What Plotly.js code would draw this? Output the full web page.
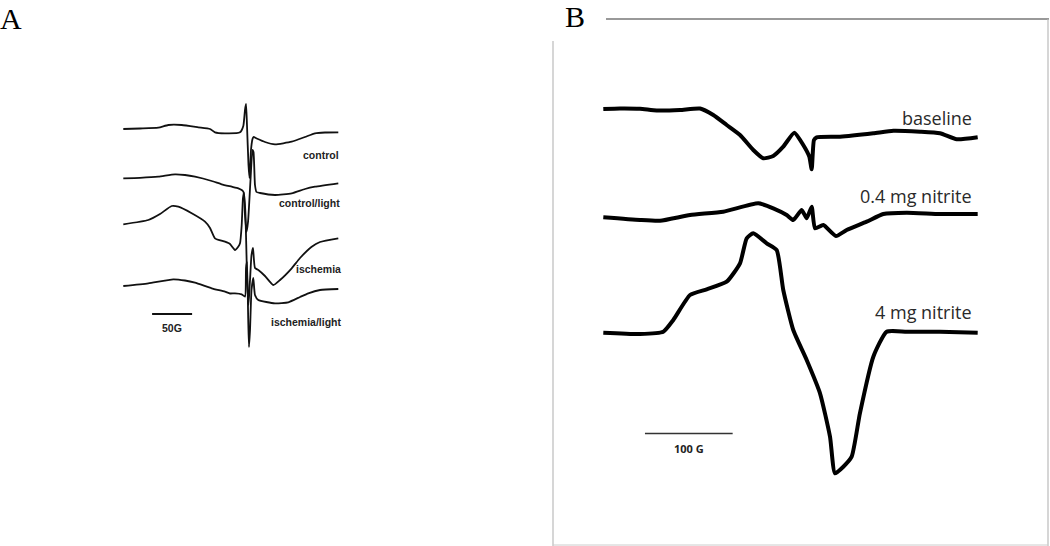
<!DOCTYPE html>
<html>
<head>
<meta charset="utf-8">
<script src="https://cdn.plot.ly/plotly-3.0.1.min.js"></script>
<style>html,body{margin:0;padding:0;background:#fff;}#chart{width:1050px;height:546px;}</style>
</head>
<body>
<div id="chart"></div>
<script>
// ---------- Panel A: magnetic field (G) and derivative signal (a.u.) ----------
const labelsA = ["control", "control/light", "ischemia", "ischemia/light"];

const fieldA_control = [0, 20.9, 43.75, 56.25, 73, 93.75, 108.4, 114.6, 127.1, 145.9, 150, 152.1, 153.4, 154.6, 156.5, 157.75, 159.6, 161.5, 162.75, 166.75, 177.1, 189.6, 210.5, 227.1, 239.6, 252.1, 268.75];
const signalA_control = [0, 0.5, 1.3, 4, 4, 1.7, 0, -3.3, -4.3, -3.3, 3, 19, 25, 4, -36, -49, -21, -10, -8, -9.5, -13, -15.3, -12.7, -8, -4.3, -3.5, -3.3];

const fieldA_controlLight = [0, 20.9, 43.75, 64.6, 77.1, 89.6, 110.5, 123, 135.5, 143.75, 148, 150.25, 152.1, 154, 155.9, 159, 161.5, 162.75, 164.6, 166.5, 170.9, 189.6, 210.5, 227.1, 239.6, 268.75];
const signalA_controlLight = [0, 0.5, 1.6, 4, 3.3, 1.6, -2.7, -6, -8.4, -10, -11.7, -13.7, -36.7, -53.7, -43.7, -1.7, 28.3, 26.3, -6.7, -13.7, -14.7, -16.7, -15, -10.7, -8.4, -5];

const fieldA_ischemia = [0, 31.25, 45.9, 60.5, 68.75, 85.5, 102.1, 108.4, 114.6, 127.1, 133.4, 139.6, 143.4, 145.9, 148, 149.6, 150.9, 152.75, 154.6, 156.5, 158.4, 160.25, 162.1, 164.6, 168.75, 177.1, 187.5, 195.9, 210.5, 220.9, 235.5, 245.9, 268.75];
const signalA_ischemia = [0, 4.3, 10.3, 18.3, 17.6, 11, 2.6, -3.7, -14, -17.4, -19.7, -25.7, -22.7, -19, -0.7, 26.3, 31.3, 9.3, -50.7, -80.7, -55.7, -30.7, -23.7, -43.7, -45.7, -51.7, -60.7, -55.7, -44, -33.7, -22.4, -17.7, -14];

const fieldA_ischemiaLight = [0, 31.25, 62.5, 77.1, 89.6, 110.5, 127.1, 133.4, 139.6, 148, 152.1, 153.4, 154.6, 156.1, 157.1, 158.4, 160.25, 162.5, 164.6, 168.75, 189.6, 206.25, 220.9, 231.25, 245.9, 268.75];
const signalA_ischemiaLight = [0, 2.7, 6.7, 5.5, 3.3, -2.3, -5.7, -7.5, -7.3, -8.3, -10.7, 18, 24, -32, -61, -44, -4, 8, -9, -14, -17.3, -16.3, -11, -7.3, -4, -3];

const scaleA_G = 50;

// ---------- Panel B ----------
const labelsB = ["baseline", "0.4 mg nitrite", "4 mg nitrite"];

const fieldB_baseline = [0, 19, 41.8, 60.9, 87.5, 110.3, 125.4, 140.7, 155.9, 171, 182.4, 193.8, 205.2, 217.8, 228, 234.9, 237.6, 240.2, 243.3, 269.9, 307.9, 330.7, 361.1, 383.9, 403, 426.9];
const signalB_baseline = [0, 0.5, 0.2, -1.5, -1, 0.5, -6, -16, -26, -41, -49.3, -47, -37.7, -23.7, -36, -47.7, -60.3, -31, -28.3, -27.7, -24.3, -21.7, -22.7, -24.3, -30.3, -28.3];

const fieldB_nitrite04 = [0, 41.8, 64.7, 98.9, 136.8, 176.7, 193.8, 209.1, 216.6, 226.2, 231.9, 237.6, 241.4, 250.9, 265.3, 277.5, 300.3, 319.3, 346, 383.9, 426.9];
const signalB_nitrite04 = [0, -2.7, -3.4, 2.3, 5.6, 14, 9, 2.3, -2.7, 7.3, -1, 10.6, -11, -7.7, -18.7, -12.7, -4.4, 3.3, 4.6, 3.3, 3.3];

const fieldB_nitrite4 = [0, 41.8, 68.4, 79.8, 98.9, 117.9, 140.7, 155.9, 163.5, 171, 186.3, 197.7, 205.2, 216.6, 231.9, 247.1, 258.5, 264.2, 273.7, 283.2, 292.6, 307.9, 323.1, 346, 383.9, 426.9];
const signalB_nitrite4 = [0, -1.3, 1, 12.7, 37.7, 43.4, 51, 69.4, 94.4, 99.4, 89.4, 82.7, 42.7, 2.7, -27.3, -60.6, -104, -140.6, -134, -124, -80.6, -24, 1, 1, 1, 0];

const scaleB_G = 100;

// ---------- layout constants (positions / styles) ----------
const W = 1050, H = 546;
const stackA = [417, 367.7, 321.7, 260];
const stackB = [437, 328.7, 213.3];
const pxPerGA = 0.8, originA = 123.3;
const pxPerGB = 0.877, originB = 603.3;

const seriesA = [
  [fieldA_control, signalA_control],
  [fieldA_controlLight, signalA_controlLight],
  [fieldA_ischemia, signalA_ischemia],
  [fieldA_ischemiaLight, signalA_ischemiaLight]
];
const seriesB = [
  [fieldB_baseline, signalB_baseline],
  [fieldB_nitrite04, signalB_nitrite04],
  [fieldB_nitrite4, signalB_nitrite4]
];

const traces = [];
seriesA.forEach((s, i) => {
  traces.push({
    x: s[0], y: s[1].map(v => v + stackA[i]),
    xaxis: 'x', yaxis: 'y', mode: 'lines', name: labelsA[i],
    line: {color: '#111', width: 1.8, shape: 'spline', smoothing: 0.5}, hoverinfo: 'skip'
  });
});
seriesB.forEach((s, i) => {
  traces.push({
    x: s[0], y: s[1].map(v => v + stackB[i]),
    xaxis: 'x2', yaxis: 'y2', mode: 'lines', name: labelsB[i],
    line: {color: '#000', width: 4, shape: 'spline', smoothing: 0.5}, hoverinfo: 'skip'
  });
});

function hiddenAxis(extra) {
  return Object.assign({visible: false, showgrid: false, zeroline: false, fixedrange: true}, extra);
}

const annPosA = [[341, 155], [342, 203], [343, 269], [344, 322]];
const annPosB = [[974, 118], [974, 196], [974, 312]];

const annotations = [];
labelsA.forEach((t, i) => annotations.push({
  text: '<b>' + t + '</b>', xref: 'paper', yref: 'paper',
  x: annPosA[i][0] / W, y: 1 - annPosA[i][1] / H, xanchor: 'right', yanchor: 'middle',
  showarrow: false, font: {family: 'Liberation Sans, Arial', size: 10.5, color: '#222'}
}));
labelsB.forEach((t, i) => annotations.push({
  text: t, xref: 'paper', yref: 'paper',
  x: annPosB[i][0] / W, y: 1 - annPosB[i][1] / H, xanchor: 'right', yanchor: 'middle',
  showarrow: false, font: {family: 'Open Sans, Noto Sans', size: 18, color: '#2a2a2a'}
}));
annotations.push({text: '<b>' + scaleA_G + 'G</b>', xref: 'paper', yref: 'paper', x: 172 / W, y: 1 - 328 / H,
  xanchor: 'center', yanchor: 'middle', showarrow: false, font: {family: 'Liberation Sans, Arial', size: 10.5, color: '#222'}});
annotations.push({text: '<b>' + scaleB_G + ' G</b>', xref: 'paper', yref: 'paper', x: 689 / W, y: 1 - 448 / H,
  xanchor: 'center', yanchor: 'middle', showarrow: false, font: {family: 'Open Sans, Noto Sans', size: 11, color: '#222'}});
annotations.push({text: 'A', xref: 'paper', yref: 'paper', x: 11 / W, y: 1 - 19 / H, xanchor: 'center', yanchor: 'middle',
  showarrow: false, font: {family: 'Liberation Serif, DejaVu Serif', size: 30, color: '#000'}});
annotations.push({text: 'B', xref: 'paper', yref: 'paper', x: 575 / W, y: 1 - 16 / H, xanchor: 'center', yanchor: 'middle',
  showarrow: false, font: {family: 'Liberation Serif, DejaVu Serif', size: 30, color: '#000'}});

const barA0 = 36, barB0 = 47.5;
const shapes = [
  {type: 'line', xref: 'x', yref: 'y', x0: barA0, x1: barA0 + scaleA_G, y0: 546 - 314, y1: 546 - 314, line: {color: '#111', width: 2}},
  {type: 'line', xref: 'x2', yref: 'y2', x0: barB0, x1: barB0 + scaleB_G, y0: 546 - 433.5, y1: 546 - 433.5, line: {color: '#333', width: 1.5}},
  // frame of panel B
  {type: 'line', xref: 'paper', yref: 'paper', x0: 606 / W, x1: 1049 / W, y0: 1 - 19 / H, y1: 1 - 19 / H, line: {color: '#999', width: 2}},
  {type: 'line', xref: 'paper', yref: 'paper', x0: 1048 / W, x1: 1048 / W, y0: 1 - 19 / H, y1: 0, line: {color: '#bbb', width: 1.2}},
  {type: 'line', xref: 'paper', yref: 'paper', x0: 553 / W, x1: 553 / W, y0: 1 - 41 / H, y1: 0, line: {color: '#bbb', width: 1.2}},
  {type: 'line', xref: 'paper', yref: 'paper', x0: 553 / W, x1: 1048 / W, y0: 1 / H, y1: 1 / H, line: {color: '#ccc', width: 1}}
];

const layout = {
  width: W, height: H,
  margin: {l: 0, r: 0, t: 0, b: 0, pad: 0},
  paper_bgcolor: '#fff', plot_bgcolor: 'rgba(0,0,0,0)',
  showlegend: false,
  xaxis: hiddenAxis({domain: [0, 0.5], range: [(0 - originA) / pxPerGA, (525 - originA) / pxPerGA]}),
  yaxis: hiddenAxis({domain: [0, 1], range: [0, H]}),
  xaxis2: hiddenAxis({domain: [0.5, 1], range: [(525 - originB) / pxPerGB, (1050 - originB) / pxPerGB], anchor: 'y2'}),
  yaxis2: hiddenAxis({domain: [0, 1], range: [0, H], anchor: 'x2'}),
  annotations: annotations,
  shapes: shapes
};

Plotly.newPlot('chart', traces, layout, {displayModeBar: false, staticPlot: true});
</script>
</body>
</html>
